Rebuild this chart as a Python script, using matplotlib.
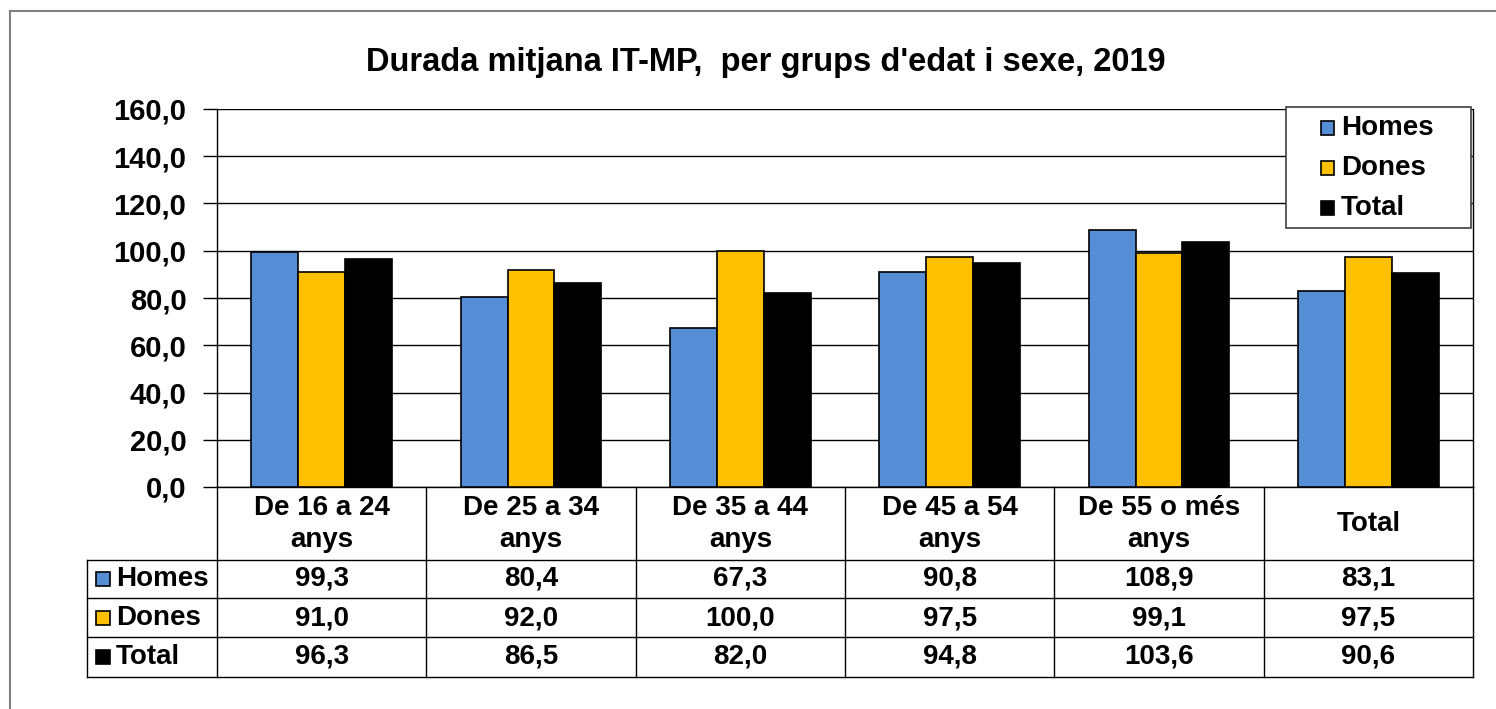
import numpy as np
import matplotlib.pyplot as plt
from matplotlib.lines import Line2D
from matplotlib.patches import Rectangle
from matplotlib import transforms

plt.rcParams['font.family'] = ['Liberation Sans', 'DejaVu Sans']
plt.rcParams['font.weight'] = 'bold'

# data
categories = ["De 16 a 24\nanys", "De 25 a 34\nanys", "De 35 a 44\nanys",
              "De 45 a 54\nanys", "De 55 o més\nanys", "Total"]
series_names = ["Homes", "Dones", "Total"]
homes = [99.3, 80.4, 67.3, 90.8, 108.9, 83.1]
dones = [91.0, 92.0, 100.0, 97.5, 99.1, 97.5]
total = [96.3, 86.5, 82.0, 94.8, 103.6, 90.6]
colors = ["#558ED5", "#FFC000", "#000000"]

W, H = 1496, 709


def fx(p):
    return p / W


def fy(p):
    return 1 - p / H


fig = plt.figure(figsize=(W / 100, H / 100), dpi=100)
fig.patch.set_facecolor("white")

# outer border (right and bottom fall outside the image)
fig.add_artist(Rectangle((fx(10), fy(720)), fx(1510) - fx(10), fy(11) - fy(720),
                         transform=fig.transFigure, fill=False,
                         edgecolor="#808080", linewidth=1.5))

ax = fig.add_axes([fx(217), fy(487), fx(1473) - fx(217), fy(109) - fy(487)])

x = np.arange(len(categories))
bw = 0.224
for i, (vals, name) in enumerate(zip([homes, dones, total], series_names)):
    ax.bar(x + (i - 1) * bw, vals, width=bw, color=colors[i],
           edgecolor="black", linewidth=1.2, label=name, zorder=3)

ax.set_xlim(-0.5, len(categories) - 0.5)
ax.set_ylim(0, 160)
ax.set_yticks(np.arange(0, 161, 20))
ax.set_yticklabels([f"{v:.1f}".replace(".", ",") for v in np.arange(0, 161, 20)],
                   fontsize=21, fontweight="bold")
ax.set_xticks([])
ax.grid(axis="y", color="black", linewidth=1, zorder=0)
ax.tick_params(axis="y", length=10, width=1, pad=12)
ax.spines["top"].set_visible(False)
for s in ["left", "right", "bottom"]:
    ax.spines[s].set_linewidth(1)

# legend box (drawn by hand to match the wide padding)
fig.add_artist(Rectangle((fx(1286), fy(228)), fx(1471) - fx(1286), fy(107) - fy(228),
                         transform=fig.transFigure, facecolor="white",
                         edgecolor="#404040", linewidth=1.2, zorder=5))
leg_rows = [128, 168, 208]
for r, name in enumerate(series_names):
    yc = fy(leg_rows[r])
    fig.add_artist(Rectangle((fx(1321), yc - 0.0095), fx(13), 0.019,
                             transform=fig.transFigure, facecolor=colors[r],
                             edgecolor="black", linewidth=1.2, zorder=6))
    fig.text(fx(1341), yc, name, ha="left", va="center", fontsize=20,
             fontweight="bold", zorder=6)

# data table below
tr = transforms.blended_transform_factory(ax.transData, fig.transFigure)
row_lines = [560, 598, 637, 677]
for p in row_lines:
    fig.add_artist(Line2D([fx(87), fx(1473)], [fy(p), fy(p)],
                          transform=fig.transFigure, color="black", linewidth=1))
fig.add_artist(Line2D([fx(87), fx(87)], [fy(560), fy(677)],
                      transform=fig.transFigure, color="black", linewidth=1))
for b in np.arange(-0.5, len(categories), 1.0):
    fig.add_artist(Line2D([b, b], [fy(487), fy(677)], transform=tr,
                          color="black", linewidth=1))

for xi, cat in zip(x, categories):
    fig.text(xi, fy(524), cat, transform=tr, ha="center", va="center",
             fontsize=20, fontweight="bold", linespacing=1.3)

row_centers = [579, 618, 657]
for r, (vals, name) in enumerate(zip([homes, dones, total], series_names)):
    yc = fy(row_centers[r])
    fig.add_artist(Rectangle((fx(96), yc - 0.0105), fx(14), 0.021,
                             transform=fig.transFigure, facecolor=colors[r],
                             edgecolor="black", linewidth=1.2))
    fig.text(fx(116), yc, name, ha="left", va="center",
             fontsize=20, fontweight="bold")
    for xi, v in zip(x, vals):
        fig.text(xi, yc, f"{v:.1f}".replace(".", ","), transform=tr,
                 ha="center", va="center", fontsize=20, fontweight="bold")

fig.text(fx(766), fy(62), "Durada mitjana IT-MP,  per grups d'edat i sexe, 2019",
         ha="center", va="center", fontsize=23.5, fontweight="bold")

fig.savefig("out.png", dpi=100)
